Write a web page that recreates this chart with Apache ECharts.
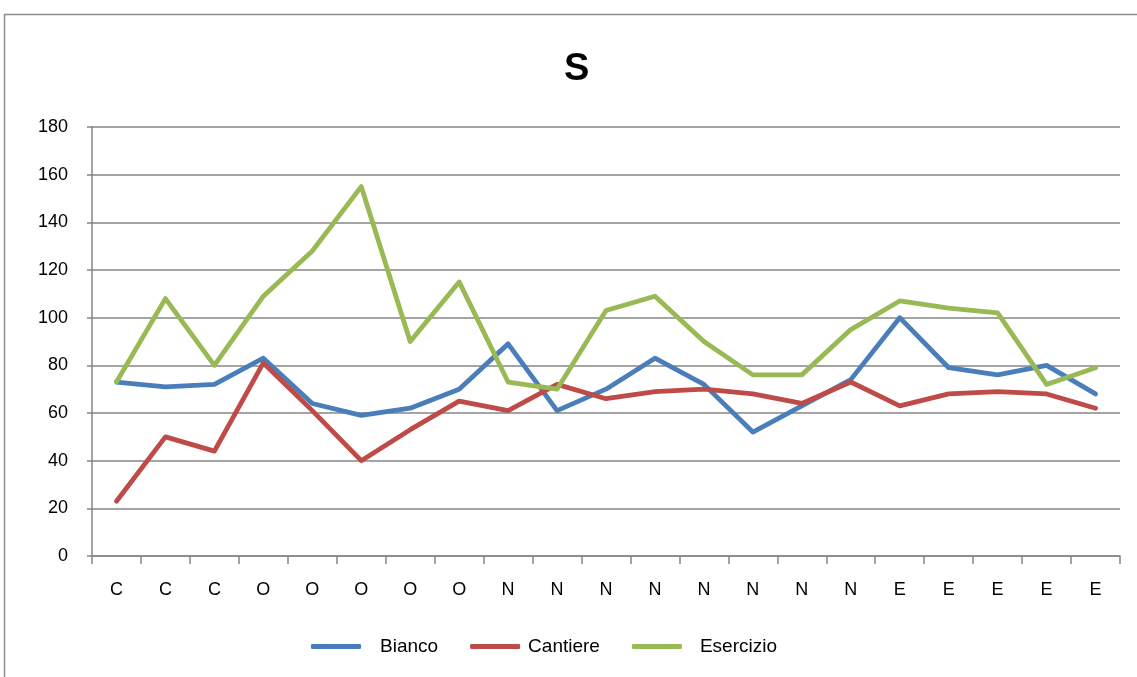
<!DOCTYPE html>
<html><head><meta charset="utf-8">
<script src="https://cdn.jsdelivr.net/npm/echarts@6/dist/echarts.min.js"></script>
<style>html,body{margin:0;padding:0;background:#fff}#c{width:1137px;height:677px}</style>
</head><body><div id="c"></div>
<script>
const categories = ['C','C','C','O','O','O','O','O','N','N','N','N','N','N','N','N','E','E','E','E','E'];
const bianco = [73,71,72,83,64,59,62,70,89,61,70,83,72,52,63,74,100,79,76,80,68];
const cantiere = [23,50,44,81,61,40,53,65,61,72,66,69,70,68,64,73,63,68,69,68,62];
const esercizio = [73,108,80,109,128,155,90,115,73,70,103,109,90,76,76,95,107,104,102,72,79];
const yTicks = [0,20,40,60,80,100,120,140,160,180];

const font = '"Liberation Sans", Arial, sans-serif';
const chart = echarts.init(document.getElementById('c'), null, {renderer:'canvas'});
const mk = (name, data, color) => ({
  name, type:'line', data, symbol:'none', smooth:false,
  lineStyle:{color, width:4.8, cap:'round', join:'round'}, itemStyle:{color},
  emphasis:{disabled:true}, animation:false
});
chart.setOption({
  animation:false,
  backgroundColor:'#fff',
  graphic:[{type:'rect', shape:{x:4.5,y:14.5,width:1200,height:700},
    style:{fill:'none', stroke:'#8c8c8c', lineWidth:1.5}, silent:true}],
  title:{text:'S', left:559, top:46, padding:5,
    textStyle:{fontFamily:font, fontSize:38, fontWeight:'bold', color:'#000'}},
  grid:{left:92, right:17, top:127, bottom:121, containLabel:false},
  legend:{
    bottom:16, left:306, itemWidth:50, itemHeight:5, itemGap:32,
    icon:'roundRect',
    textStyle:{fontFamily:font, fontSize:19, color:'#000'},
    data:[
      {name:'Bianco', textStyle:{padding:[0,0,0,14]}},
      {name:'Cantiere', textStyle:{padding:[0,0,0,3]}},
      {name:'Esercizio', textStyle:{padding:[0,0,0,13]}}
    ]
  },
  xAxis:{
    type:'category', data:categories, boundaryGap:true,
    axisLine:{lineStyle:{color:'#868686', width:1.5}},
    axisTick:{show:true, length:8, inside:false, lineStyle:{color:'#868686', width:1.5}},
    axisLabel:{fontFamily:font, fontSize:18, color:'#000', margin:25, interval:0},
    splitLine:{show:false}
  },
  yAxis:{
    type:'value', min:yTicks[0], max:yTicks[yTicks.length-1], interval:20,
    axisLine:{show:true, lineStyle:{color:'#868686', width:1.5}},
    axisTick:{show:true, length:5, lineStyle:{color:'#868686', width:1.5}},
    axisLabel:{fontFamily:font, fontSize:18, color:'#000', margin:24},
    splitLine:{show:true, lineStyle:{color:'#868686', width:1.5}}
  },
  series:[
    mk('Bianco', bianco, '#4A7EBB'),
    mk('Cantiere', cantiere, '#BE4B48'),
    mk('Esercizio', esercizio, '#98B954')
  ]
});
</script></body></html>
